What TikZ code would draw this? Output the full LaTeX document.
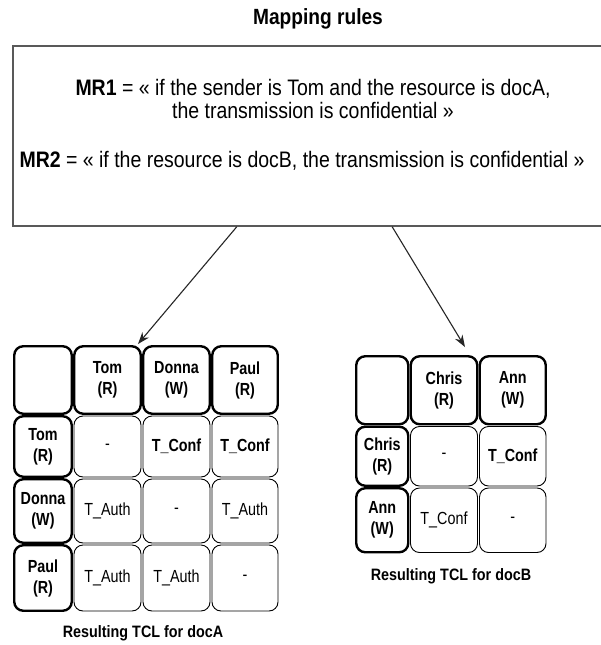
\documentclass[tikz,border=0pt]{standalone}
\usepackage{fontspec}
\setmainfont{Liberation Sans}[FakeStretch=0.87]
\newfontfamily\cellfont{Liberation Sans}[FakeStretch=0.82]
\usetikzlibrary{arrows.meta,calc}
\newcommand{\cellat}[6]{\node[#1,minimum width=#4pt,minimum height=#5pt] (#2) at (#3) {#6};}
\begin{document}
\begin{tikzpicture}[x=1pt,y=-1pt,
  cellbase/.style={rounded corners=9pt, inner sep=0pt, align=center},
  hcell/.style={cellbase, draw=black, line width=2.4pt, font=\cellfont\fontsize{17.5}{21}\selectfont\bfseries},
  bcell/.style={cellbase, draw=black, line width=0.9pt, font=\cellfont\fontsize{17.5}{21}\selectfont},
  bcellb/.style={bcell, font=\cellfont\fontsize{17.5}{21}\selectfont\bfseries},
  caption/.style={font=\fontsize{16.5}{20}\selectfont\bfseries},
  ruletext/.style={font=\fontsize{22.4}{23}\selectfont, align=center, inner sep=0pt},
  arr/.style={draw=black!85, line width=1.1pt, -{Stealth[length=12pt,width=8.5pt]}}]
\clip (0,0) rectangle (601,645);
\fill[white] (0,0) rectangle (601,645);

% title and rule box
\node[font=\fontsize{22}{24}\selectfont\bfseries] (title) at (318,19) {Mapping rules};
\node[draw=black!65, line width=1.5pt, minimum width=606pt, minimum height=180pt, inner sep=0pt]
  (rules) at (316,136) {};
\node[ruletext] (mr1) at (313,99) {\textbf{MR1} = « if the sender is Tom and the resource is docA,\\the transmission is confidential »};
\node[ruletext] (mr2) at (302,161) {\textbf{MR2} = « if the resource is docB, the transmission is confidential »};

% TCL for docA: body cells
\cellat{bcell}{a11}{107.5,446.5}{67}{61}{-}
\cellat{bcellb}{a12}{176.5,446.5}{67}{61}{T\_Conf}
\cellat{bcellb}{a13}{245,446.5}{66}{61}{T\_Conf}
\cellat{bcell}{a21}{107.5,511}{67}{64}{T\_Auth}
\cellat{bcell}{a22}{176.5,511}{67}{64}{-}
\cellat{bcell}{a23}{245,511}{66}{64}{T\_Auth}
\cellat{bcell}{a31}{107.5,578}{67}{66}{T\_Auth}
\cellat{bcell}{a32}{176.5,578}{67}{66}{T\_Auth}
\cellat{bcell}{a33}{245,578}{66}{66}{-}
% TCL for docA: header cells
\cellat{hcell}{a00}{43,380}{57.5}{67.5}{}
\cellat{hcell}{a01}{107.5,380}{66.5}{67.5}{Tom\\(R)}
\cellat{hcell}{a02}{176.5,380}{66.5}{67.5}{Donna\\(W)}
\cellat{hcell}{a03}{245,380}{65.5}{67.5}{Paul\\(R)}
\cellat{hcell}{a10}{43,446.5}{57.5}{60.5}{Tom\\(R)}
\cellat{hcell}{a20}{43,511}{57.5}{63.5}{Donna\\(W)}
\cellat{hcell}{a30}{43,578}{57.5}{65.5}{Paul\\(R)}
\node[caption] (capA) at (143,633) {Resulting TCL for docA};

% TCL for docB: body cells
\cellat{bcell}{b11}{444,456.25}{67}{59.5}{-}
\cellat{bcellb}{b12}{512.75,456.25}{66.5}{59.5}{T\_Conf}
\cellat{bcell}{b21}{444,520.25}{67}{64.5}{T\_Conf}
\cellat{bcell}{b22}{512.75,520.25}{66.5}{64.5}{-}
% TCL for docB: header cells
\cellat{hcell}{b00}{382.25,390.25}{52}{68}{}
\cellat{hcell}{b01}{444,390.25}{66.5}{68}{Chris\\(R)}
\cellat{hcell}{b02}{512.75,390.25}{66}{68}{Ann\\(W)}
\cellat{hcell}{b10}{382.25,456.25}{52}{59}{Chris\\(R)}
\cellat{hcell}{b20}{382.25,520.25}{52}{64}{Ann\\(W)}
\node[caption] (capB) at (451,576) {Resulting TCL for docB};

% mapping arrows
\draw[arr] ($(rules.south west)!0.3696!(rules.south east)$) -- ($(a01.north east)+(-4,-1)$);
\draw[arr] ($(rules.south west)!0.6254!(rules.south east)$) -- ($(b01.north)+(21,-8)$);
\end{tikzpicture}
\end{document}
